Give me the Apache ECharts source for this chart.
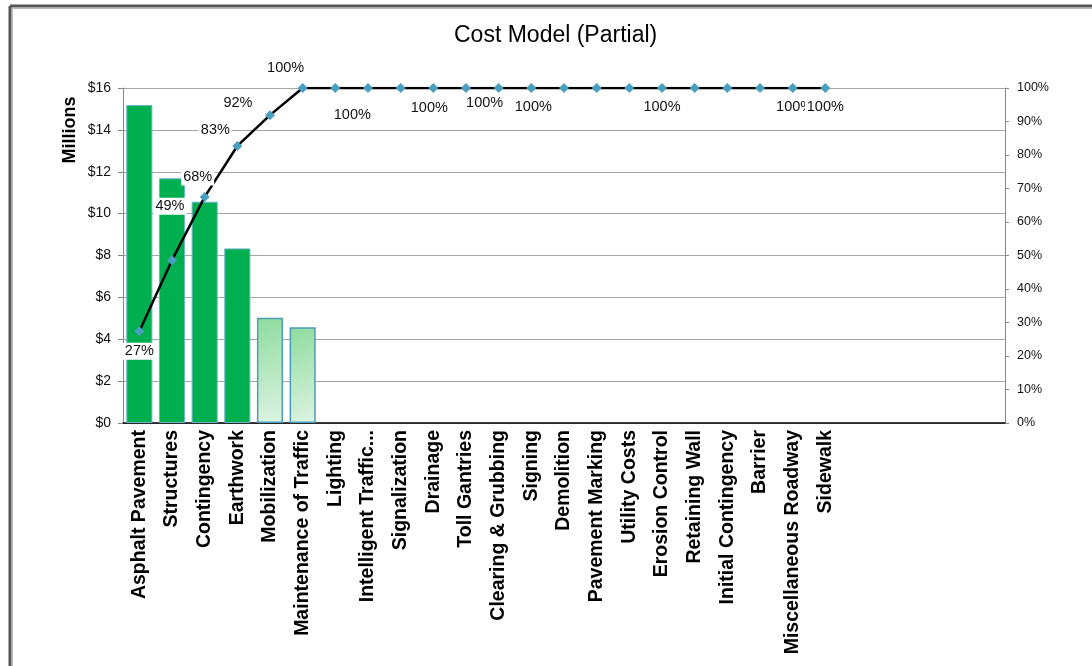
<!DOCTYPE html>
<html>
<head>
<meta charset="utf-8">
<style>
  html, body { margin: 0; padding: 0; background: #fff; }
  #chart-container { width: 1092px; height: 666px; }
</style>
<script src="https://cdn.jsdelivr.net/npm/echarts@6/dist/echarts.min.js"></script>
</head>
<body>
<div id="chart-container"></div>
<script>
var dom = document.getElementById('chart-container');
var myChart = echarts.init(dom, null, { renderer: 'canvas' });

// categories (5 blank slots at the end, as in the source sheet)
var categories = [
  'Asphalt Pavement', 'Structures', 'Contingency', 'Earthwork', 'Mobilization',
  'Maintenance of Traffic', 'Lighting', 'Intelligent Traffic...', 'Signalization',
  'Drainage', 'Toll Gantries', 'Clearing & Grubbing', 'Signing', 'Demolition',
  'Pavement Marking', 'Utility Costs', 'Erosion Control', 'Retaining Wall',
  'Initial Contingency', 'Barrier', 'Miscellaneous Roadway', 'Sidewalk',
  '', '', '', '', ''
];

// cost in millions of dollars
var costs = [15.19, 11.69, 10.57, 8.34, 5.03, 4.57];

// cumulative share shown by the line
var cumulative = [0.274, 0.486, 0.675, 0.827, 0.919, 1, 1, 1, 1, 1, 1, 1, 1, 1, 1, 1, 1, 1, 1, 1, 1, 1];

var yTicks = [0, 16, 2];
var pctTicks = [0, 1, 0.1];

// which points carry a label, and where it was dragged to (px from the point)
var labelOffsets = {
  0: [0, 20], 1: [-2, -54], 2: [-7, -20], 3: [-22, -16], 4: [-32, -12],
  5: [-17, -20], 6: [17, 27], 9: [-4, 20], 11: [-14, 15], 12: [2, 19],
  16: [0, 19], 20: [2, 19], 21: [0, 19]
};

var solidGreen = '#00b050';
var lightGreen = new echarts.graphic.LinearGradient(0, 0, 1, 1, [
  { offset: 0, color: '#8edc9e' },
  { offset: 1, color: '#ddf3e2' }
]);

var barData = costs.map(function (v, i) {
  return {
    value: v,
    itemStyle: i < 4
      ? { color: solidGreen, borderColor: '#6fb6cc', borderWidth: 1 }
      : { color: lightGreen, borderColor: '#4b9dba', borderWidth: 1.5 }
  };
});

var lineData = cumulative.map(function (v, i) {
  var off = labelOffsets[i];
  return {
    value: v,
    label: off ? { show: true, position: 'inside', offset: off } : { show: false }
  };
});

var font = 'Liberation Sans, Arial, sans-serif';

var option = {
  animation: false,
  textStyle: { fontFamily: font },
  title: {
    text: 'Cost Model (Partial)',
    left: 449,
    top: 19,
    textStyle: { fontSize: 23, fontWeight: 'normal', color: '#000', fontFamily: font }
  },
  graphic: [
    // sheet frame
    { type: 'line', shape: { x1: 10, y1: 6, x2: 1092, y2: 6 }, style: { stroke: '#555', lineWidth: 3 } },
    { type: 'line', shape: { x1: 10, y1: 6, x2: 10, y2: 666 }, style: { stroke: '#555', lineWidth: 3 } },
    { type: 'line', shape: { x1: 12, y1: 8.5, x2: 1092, y2: 8.5 }, style: { stroke: '#b8b8b8', lineWidth: 1 } },
    { type: 'line', shape: { x1: 12.5, y1: 8, x2: 12.5, y2: 666 }, style: { stroke: '#b8b8b8', lineWidth: 1 } },
    {
      type: 'text', x: 70, y: 130, rotation: Math.PI / 2,
      style: {
        text: 'Millions', fontSize: 18, fontWeight: 'bold', fill: '#000',
        fontFamily: font, align: 'center', verticalAlign: 'middle'
      }
    }
  ],
  grid: { left: 123, right: 87, top: 88, bottom: 243 },
  xAxis: {
    type: 'category',
    data: categories,
    axisLine: { lineStyle: { color: '#000', width: 1.5 } },
    axisTick: { show: false },
    axisLabel: {
      rotate: 90, interval: 0, margin: 7,
      fontSize: 19.5, fontWeight: 'bold', color: '#000'
    }
  },
  yAxis: [
    {
      type: 'value',
      min: yTicks[0], max: yTicks[1], interval: yTicks[2],
      axisLine: { show: true, lineStyle: { color: '#888' } },
      axisTick: { show: true, length: 5, lineStyle: { color: '#888' } },
      axisLabel: { fontSize: 14, color: '#111', margin: 12, formatter: function (v) { return '$' + v; } },
      splitLine: { lineStyle: { color: '#a6a6a6', width: 1 } }
    },
    {
      type: 'value',
      min: pctTicks[0], max: pctTicks[1], interval: pctTicks[2],
      position: 'right',
      axisLine: { show: true, lineStyle: { color: '#888' } },
      axisTick: { show: true, length: 4, lineStyle: { color: '#888' } },
      axisLabel: { fontSize: 12.5, color: '#111', margin: 12, formatter: function (v) { return Math.round(v * 100) + '%'; } },
      splitLine: { show: false }
    }
  ],
  series: [
    {
      type: 'bar',
      data: barData,
      barCategoryGap: '20%',
      yAxisIndex: 0
    },
    {
      type: 'line',
      data: lineData,
      yAxisIndex: 1,
      z: 5,
      symbol: 'diamond',
      symbolSize: 10,
      lineStyle: { color: '#000', width: 2.5 },
      itemStyle: { color: '#4a9fc0' },
      label: {
        fontSize: 14.5, color: '#111', backgroundColor: '#fff', padding: [1, 2],
        formatter: function (p) { return Math.round(p.value * 100) + '%'; }
      }
    }
  ]
};

myChart.setOption(option);
window.addEventListener('resize', myChart.resize);
</script>
</body>
</html>
